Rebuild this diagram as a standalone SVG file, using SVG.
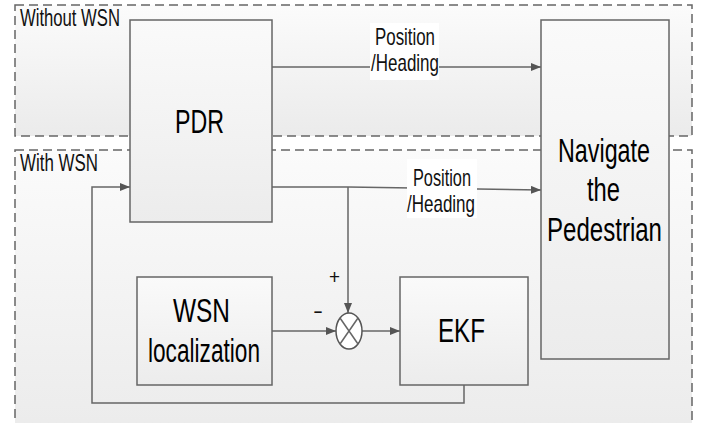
<svg xmlns="http://www.w3.org/2000/svg" width="710" height="423" viewBox="0 0 710 423">
<defs>
<linearGradient id="gRegion" x1="0" y1="0" x2="0" y2="1">
<stop offset="0" stop-color="#fbfbfb"/><stop offset="1" stop-color="#ebebeb"/>
</linearGradient>
<linearGradient id="gBox" x1="0" y1="0" x2="0" y2="1">
<stop offset="0" stop-color="#fafafa"/><stop offset="1" stop-color="#ececec"/>
</linearGradient>
<marker id="arr" markerWidth="10" markerHeight="8" refX="10" refY="4" orient="auto" markerUnits="userSpaceOnUse">
<path d="M0,0 L10,4 L0,8 Z" fill="#555"/>
</marker>
<style>
.region{fill:url(#gRegion);stroke:#666;stroke-width:1.5;stroke-dasharray:9,5}
.box{fill:url(#gBox);stroke:#666;stroke-width:1.5}
.ln{fill:none;stroke:#666;stroke-width:1.5}
.arw{fill:none;stroke:#666;stroke-width:1.5;marker-end:url(#arr)}
.t{font-family:"Liberation Sans",Arial,sans-serif;fill:#000;font-size:33px}
.small{font-family:"Liberation Sans",Arial,sans-serif;fill:#111;font-size:23px}
.lbl{font-family:"Liberation Sans",Arial,sans-serif;fill:#111;font-size:24px}
.sign{font-family:"Liberation Sans",Arial,sans-serif;fill:#111;font-size:21px}
</style>
</defs>
<rect width="710" height="423" fill="#fff"/>
<g id="region-without">
<rect class="region" x="15" y="5" width="677" height="131"/>
<text class="small" x="20" y="26" textLength="100" lengthAdjust="spacingAndGlyphs">Without WSN</text>
</g>
<g id="region-with">
<rect class="region" x="15" y="150" width="677" height="290"/>
<text class="small" x="20" y="171" textLength="78" lengthAdjust="spacingAndGlyphs">With WSN</text>
</g>
<g id="connectors">
<line class="arw" x1="272" y1="67" x2="541" y2="67"/>
<polyline class="arw" points="272,187 348,187 541,190"/>
<line class="arw" x1="348" y1="187" x2="348" y2="313"/>
<line class="arw" x1="272" y1="331" x2="336" y2="331"/>
<line class="arw" x1="362" y1="331" x2="400" y2="331"/>
<polyline class="arw" points="464,385 464,403 92,403 92,187 130,187"/>
<rect x="370" y="23" width="69" height="57" fill="#fff"/>
<text class="lbl" x="375" y="45" textLength="60" lengthAdjust="spacingAndGlyphs">Position</text>
<text class="lbl" x="371" y="71" textLength="68" lengthAdjust="spacingAndGlyphs">/Heading</text>
<rect x="407" y="159" width="70" height="59" fill="#fff"/>
<text class="lbl" x="413" y="186" textLength="58" lengthAdjust="spacingAndGlyphs">Position</text>
<text class="lbl" x="407" y="212" textLength="68" lengthAdjust="spacingAndGlyphs">/Heading</text>
<text class="sign" x="329" y="284" textLength="11" lengthAdjust="spacingAndGlyphs">+</text>
<text class="sign" x="313" y="318" textLength="10" lengthAdjust="spacingAndGlyphs">-</text>
</g>
<g id="pdr">
<rect class="box" x="130" y="20" width="142" height="202"/>
<text class="t" x="175" y="133" textLength="49" lengthAdjust="spacingAndGlyphs">PDR</text>
</g>
<g id="navigate">
<rect class="box" x="541" y="20" width="128" height="339"/>
<text class="t" x="558" y="162" textLength="92" lengthAdjust="spacingAndGlyphs">Navigate</text>
<text class="t" x="587" y="201" textLength="33" lengthAdjust="spacingAndGlyphs">the</text>
<text class="t" x="547" y="241" textLength="115" lengthAdjust="spacingAndGlyphs">Pedestrian</text>
</g>
<g id="wsn">
<rect class="box" x="137" y="277" width="135" height="108"/>
<text class="t" x="173" y="322" textLength="57" lengthAdjust="spacingAndGlyphs">WSN</text>
<text class="t" x="148" y="362" textLength="112" lengthAdjust="spacingAndGlyphs">localization</text>
</g>
<g id="ekf">
<rect class="box" x="400" y="277" width="128" height="108"/>
<text class="t" x="438" y="342" textLength="47" lengthAdjust="spacingAndGlyphs">EKF</text>
</g>
<g id="sum">
<ellipse cx="349" cy="331" rx="13" ry="18" fill="#fff" stroke="#555" stroke-width="1.5"/>
<line class="ln" x1="340" y1="318" x2="358" y2="344"/>
<line class="ln" x1="358" y1="318" x2="340" y2="344"/>
</g>
</svg>
